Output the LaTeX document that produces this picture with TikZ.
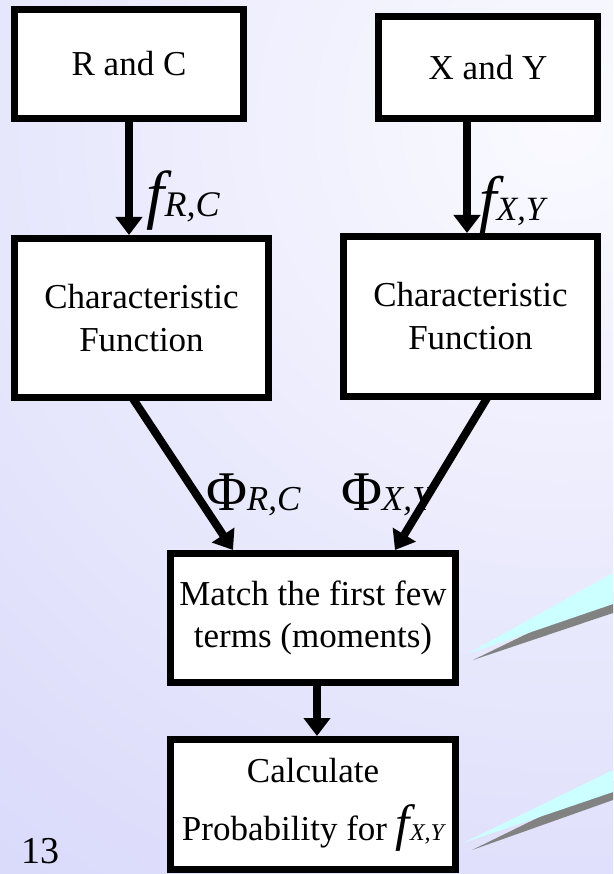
\documentclass[tikz,border=0pt]{standalone}
\usepackage{fontspec}
\setmainfont{Liberation Serif}
\usetikzlibrary{arrows.meta}
\definecolor{bgdark}{RGB}{205,205,249}
\definecolor{bglight}{RGB}{250,250,255}
\definecolor{wedgecyan}{RGB}{204,255,255}
\definecolor{wedgegray}{RGB}{130,130,130}
\newcommand{\fsz}[2]{\fontsize{#1}{#2}\selectfont}
\pgfdeclarelayer{bglayer}
\pgfdeclarelayer{arrowlayer}
\pgfsetlayers{bglayer,arrowlayer,main}
\begin{document}
\begin{tikzpicture}[x=1pt,y=-1pt,
  box/.style={draw=black, line width=7pt, fill=white, inner sep=0pt, align=center, font=\fsz{35}{43}},
  flow/.style={line width=8pt, -{Triangle[length=18pt,width=26pt]}},
  lbl/.style={anchor=base west, inner sep=0pt, outer sep=0pt}]

\useasboundingbox (0,0) rectangle (613,874);

% boxes
\node[box, minimum width=229pt, minimum height=109pt] (rc) at (129,64) {R and C};
\node[box, minimum width=219pt, minimum height=102pt] (xy) at (488,67.5) {X and Y};
\node[box, minimum width=254pt, minimum height=159pt] (cf1) at (141.5,318) {Characteristic\\Function};
\node[box, minimum width=254pt, minimum height=160pt] (cf2) at (470.5,316.5) {Characteristic\\Function};
\node[box, minimum width=285pt, minimum height=129pt, font=\fsz{35}{42}] (match) at (313,618) {Match the first few\\terms (moments)};
\node[box, minimum width=285pt, minimum height=130pt] (calc) at (313,804.5)
  {Calculate\\[15pt]Probability for {\itshape\fsz{51}{51}f}{\itshape\fsz{24}{24}X,Y}};
\node[lbl, font=\fsz{38}{38}] (pagenum) at (21,863) {13};

\begin{pgfonlayer}{bglayer}
  \fill[bgdark] (0,0) rectangle (613,874);
  \begin{scope}
    \clip (0,0) rectangle (613,874);
    \shade[inner color=bglight, outer color=bgdark] (560,120) circle[radius=1300pt];
  \end{scope}
  % wedges
  \fill[wedgegray] (473,660) -- (613,592) -- (613,613) -- cycle;
  \fill[wedgecyan] (467,654) -- (613,573) -- (613,604) -- cycle;
  \fill[wedgegray] (472,850) -- (613,781) -- (613,800) -- cycle;
  \fill[wedgecyan] (463,843) -- (613,770) -- (613,792) -- cycle;
  % labels
  \node[lbl] (frc) at (146.5,217) {\itshape\fsz{65}{65}f\fsz{36}{36}R,C};
  \node[lbl] (fxy) at (479,221) {\itshape\fsz{63}{63}f\fsz{34}{34}X,Y};
  \node[lbl] (phirc) at (206,510) {\fsz{56}{56}Φ\itshape\fsz{35}{35}R,C};
  \node[lbl] (phixy) at (341,510) {\fsz{56}{56}Φ\itshape\fsz{35}{35}X,Y};
\end{pgfonlayer}

\begin{pgfonlayer}{arrowlayer}
  \draw[flow] ([yshift=6pt]rc.south) -- (rc.south |- cf1.north);
  \draw[flow] ([xshift=-21pt,yshift=6pt]xy.south) -- ([xshift=-21pt]xy.south |- cf2.north);
  \draw[flow] ([xshift=-11pt,yshift=6pt]cf1.south) -- ([xshift=-80pt]match.north);
  \draw[flow] ([xshift=19pt,yshift=6pt]cf2.south) -- ([xshift=82pt]match.north);
  \draw[flow] ([xshift=4pt,yshift=6pt]match.south) -- ([xshift=4pt]match.south |- calc.north);
\end{pgfonlayer}
\end{tikzpicture}
\end{document}
